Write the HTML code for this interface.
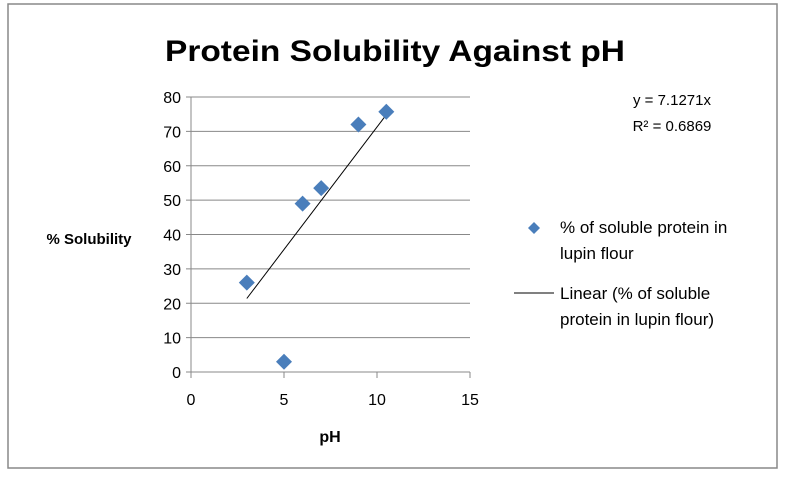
<!DOCTYPE html>
<html><head><meta charset="utf-8"><style>
body{margin:0;background:#fff;}
svg{display:block;font-family:"Liberation Sans",sans-serif;}
</style></head><body>
<svg id="c" width="786" height="480">
<rect x="8" y="4" width="769" height="464" fill="#fff" stroke="#888" stroke-width="1.5"/>
<text x="395" y="61" text-anchor="middle" font-size="30" font-weight="bold" fill="#000" textLength="460" lengthAdjust="spacingAndGlyphs">Protein Solubility Against pH</text>
<text x="89" y="244" text-anchor="middle" font-size="15" font-weight="bold">% Solubility</text>
<text x="330" y="442" text-anchor="middle" font-size="16" font-weight="bold">pH</text>
<text x="672" y="105" text-anchor="middle" font-size="15">y = 7.1271x</text>
<text x="672" y="131" text-anchor="middle" font-size="15">R² = 0.6869</text>
<g>
<path d="M534,222 l6,6 -6,6 -6,-6z" fill="#4a7ebb"/>
<text x="560" y="233" font-size="17"><tspan x="560">% of soluble protein in</tspan><tspan x="560" dy="26">lupin flour</tspan></text>
<line x1="514" y1="293" x2="554" y2="293" stroke="#000"/>
<text x="560" y="299" font-size="17"><tspan x="560">Linear (% of soluble</tspan><tspan x="560" dy="26">protein in lupin flour)</tspan></text>
</g>
<g id="plot"></g>
</svg>
<script>
const xTicks=[0,5,10,15];
const yTicks=[0,10,20,30,40,50,60,70,80];
const phValues=[3,5,6,7,9,10.5];
const solubility=[26,3,49,53.5,72,75.7];
const slope=7.1271;
const x=v=>191+v*(470-191)/15;
const y=v=>372-v*(372-97)/80;
const g=document.getElementById('plot');
const NS='http://www.w3.org/2000/svg';
function mk(t,a){const e=document.createElementNS(NS,t);for(const k in a)e.setAttribute(k,a[k]);g.appendChild(e);return e;}
yTicks.forEach(v=>{
 const l=mk('line',{x1:x(0)-5,x2:x(15),y1:y(v),y2:y(v),stroke:'#888','stroke-width':1});
 
 
 const t=mk('text',{x:x(0)-10,y:y(v)+6,'text-anchor':'end','font-size':16});
 t.textContent=v;
 
 
});
const ax=mk('line',{x1:x(0),x2:x(0),y1:y(80),y2:y(0),stroke:'#888'});


xTicks.forEach(v=>{
 const l=mk('line',{x1:x(v),x2:x(v),y1:y(0),y2:y(0)+6,stroke:'#888'});
 
 
 const t=mk('text',{x:x(v),y:y(0)+33,'text-anchor':'middle','font-size':16});
 t.textContent=v;
 
 
});
const x0=Math.min(...phValues),x1=Math.max(...phValues);
const tl=mk('line',{x1:x(x0),y1:y(slope*x0),x2:x(x1),y2:y(slope*x1),stroke:'#000','stroke-width':1});


phValues.forEach((p,i)=>{
 const cx=x(p),cy=y(solubility[i]);
 const d=mk('path',{d:`M${cx},${cy-8} L${cx+8},${cy} L${cx},${cy+8} L${cx-8},${cy} Z`,fill:'#4a7ebb'});
 
 
});
</script>
</body></html>
